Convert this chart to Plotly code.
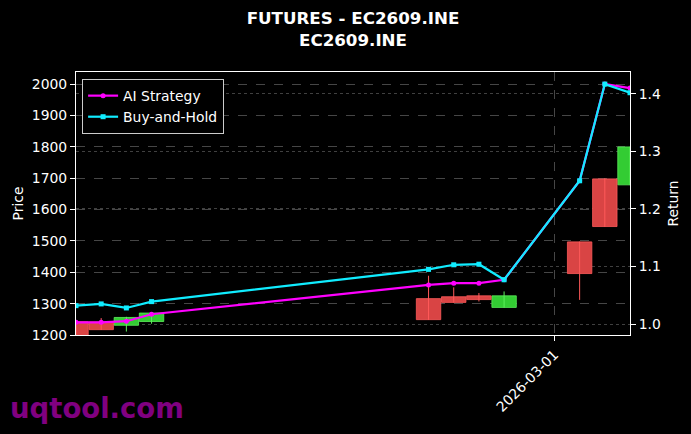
import plotly.graph_objects as go

# ---- data ----
dates = ["2026-02-10", "2026-02-11", "2026-02-12", "2026-02-13",
         "2026-02-24", "2026-02-25", "2026-02-26", "2026-02-27",
         "2026-03-02", "2026-03-03", "2026-03-04"]
open_ = [1242, 1241, 1231, 1243, 1316, 1322, 1325, 1288, 1497, 1698, 1679]
high = [1246, 1254, 1258, 1272, 1389, 1352, 1334, 1339, 1498, 1700, 1801]
low = [1190, 1216, 1211, 1236, 1248, 1303, 1307, 1287, 1312, 1545, 1678]
close = [1195, 1217, 1256, 1270, 1249, 1304, 1313, 1325, 1396, 1546, 1800]

ai_return = [1.003, 1.003, 1.005, 1.017, 1.068, 1.071, 1.071, 1.077, 1.249, 1.417, 1.410]
bh_return = [1.032, 1.035, 1.028, 1.039, 1.095, 1.103, 1.104, 1.077, 1.249, 1.417, 1.402]

xtick_vals = ["2026-03-01"]
xtick_text = ["2026-03-01"]

FONT = "DejaVu Sans"
W, H = 691, 434
L, R, T, B = 76, 61, 72, 99
DAY_MS = 86400000
BODY_W = 0.97 * DAY_MS

UP_FILL, UP_LINE = "#33cc33", "#5cf05c"
DN_FILL, DN_LINE = "#d94444", "#ff5a5a"

fig = go.Figure()

# candle bodies and wicks, built from the OHLC arrays
for is_up, fill, edge in [(True, UP_FILL, UP_LINE), (False, DN_FILL, DN_LINE)]:
    xs, bases, heights = [], [], []
    wx, wy = [], []
    for d, o, h, l, c in zip(dates, open_, high, low, close):
        if (c >= o) != is_up:
            continue
        xs.append(d)
        bases.append(min(o, c))
        heights.append(abs(c - o))
        wx += [d, d, None]
        wy += [l, h, None]
    fig.add_trace(go.Bar(
        x=xs, y=heights, base=bases, width=BODY_W,
        marker=dict(color=fill, line=dict(color=edge, width=0.8)),
        showlegend=False, hoverinfo="skip",
    ))
    fig.add_trace(go.Scatter(
        x=wx, y=wy, mode="lines", line=dict(color=edge, width=1),
        showlegend=False, hoverinfo="skip",
    ))

fig.add_trace(go.Scatter(
    x=dates, y=ai_return, yaxis="y2", mode="lines+markers", name="AI Strategy",
    line=dict(color="#ff00ff", width=2.2),
    marker=dict(symbol="circle", size=5, color="#ff00ff"),
))
fig.add_trace(go.Scatter(
    x=dates, y=bh_return, yaxis="y2", mode="lines+markers", name="Buy-and-Hold",
    line=dict(color="#10ecff", width=2.2),
    marker=dict(symbol="square", size=5, color="#10ecff"),
))

axis_common = dict(
    showline=True, linecolor="white", linewidth=1,
    ticks="outside", tickcolor="white", ticklen=5, tickwidth=1,
    tickfont=dict(family=FONT, size=13.9, color="white"),
    zeroline=False,
)

fig.update_layout(
    width=W, height=H,
    margin=dict(l=L, r=R, t=T, b=B, autoexpand=False),
    paper_bgcolor="black", plot_bgcolor="black",
    font=dict(family=FONT, color="white"),
    barmode="overlay",
    showlegend=True,
    legend=dict(
        x=0.011, y=0.973, xanchor="left", yanchor="top",
        bgcolor="black", bordercolor="#cccccc", borderwidth=1,
        font=dict(family=FONT, size=13.9, color="white"),
    ),
    xaxis=dict(
        type="date", range=["2026-02-10", "2026-03-04"],
        tickvals=xtick_vals, ticktext=xtick_text, tickangle=-45,
        showgrid=True, gridcolor="rgba(128,128,128,0.55)", griddash="dash", gridwidth=0.6,
        mirror=True, **axis_common,
    ),
    yaxis=dict(
        range=[1200, 2039], tickvals=[1200, 1300, 1400, 1500, 1600, 1700, 1800, 1900, 2000],
        showgrid=True, gridcolor="rgba(128,128,128,0.55)", griddash="dash", gridwidth=0.6,
        title=dict(text="Price", font=dict(family=FONT, size=13.9, color="white"), standoff=4),
        **axis_common,
    ),
    yaxis2=dict(
        overlaying="y", side="right",
        range=[0.981, 1.438], tickvals=[1.0, 1.1, 1.2, 1.3, 1.4],
        ticktext=["1.0", "1.1", "1.2", "1.3", "1.4"],
        showgrid=True, gridcolor="rgba(128,128,128,0.5)", griddash="dot", gridwidth=0.6,
        title=dict(text="Return", font=dict(family=FONT, size=13.9, color="white"), standoff=8),
        **axis_common,
    ),
    title=dict(
        text="<b>FUTURES - EC2609.INE<br>EC2609.INE</b>",
        x=(L + (W - L - R) / 2) / W, xanchor="center",
        y=1 - 24 / H, yanchor="top",
        font=dict(family=FONT, size=16.7, color="white"),
    ),
    annotations=[dict(
        text="<b>uqtool.com</b>", xref="paper", yref="paper",
        x=(8 - L) / (W - L - R), y=(H - B - 408) / (H - T - B),
        xanchor="left", yanchor="middle", showarrow=False,
        font=dict(family=FONT, size=27.5, color="#800080"),
    )],
)

fig.write_html(
    "out.html",
    config={"displayModeBar": False},
    post_script="document.body.style.margin='0';document.body.style.overflow='hidden';",
)
